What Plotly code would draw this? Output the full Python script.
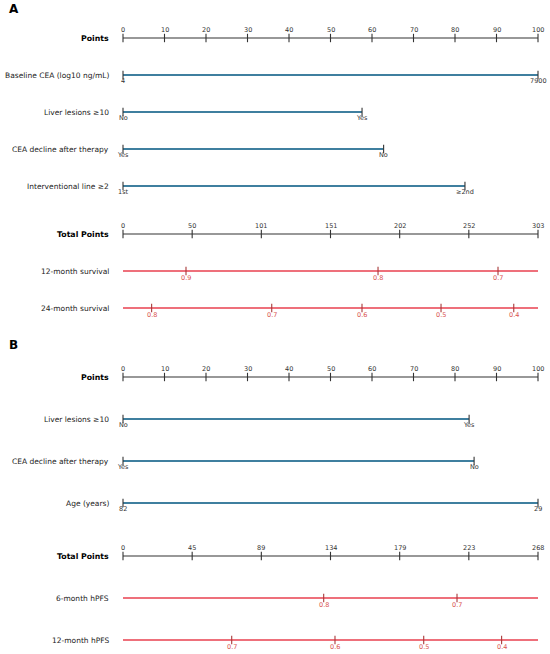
import numpy as np
import plotly.graph_objects as go

# ---- data ----
points_ticks = list(range(0, 101, 10))

# panel A (OS)
a_vars = ["Baseline CEA (log10 ng/mL)", "Liver lesions \u226510", "CEA decline after therapy", "Interventional line \u22652"]
a_ends = [100, 57.6, 62.8, 82.4]
a_end_labels = [["4", "7900"], ["No", "Yes"], ["Yes", "No"], ["1st", "\u22652nd"]]
a_total_max = 303
a_total_labels = ["0", "50", "101", "151", "202", "252", "303"]
a_outcomes = ["12-month survival", "24-month survival"]
a_prob_labels = [[0.9, 0.8, 0.7], [0.8, 0.7, 0.6, 0.5, 0.4]]
a_prob_total = [[46.0, 186.2, 273.8], [20.9, 108.6, 174.5, 232.2, 285.3]]

# panel B (hPFS)
b_vars = ["Liver lesions \u226510", "CEA decline after therapy", "Age (years)"]
b_ends = [83.4, 84.6, 100]
b_end_labels = [["No", "Yes"], ["Yes", "No"], ["82", "29"]]
b_total_max = 268
b_total_labels = ["0", "45", "89", "134", "179", "223", "268"]
b_outcomes = ["6-month hPFS", "12-month hPFS"]
b_prob_labels = [[0.8, 0.7], [0.7, 0.6, 0.5, 0.4]]
b_prob_total = [[129.6, 215.7], [70.2, 136.9, 194.2, 244.5]]

# ---- styling ----
FONT = "DejaVu Sans"
BLUE = "#3f7f9f"
RED = "#e8414f"
RED_TXT = "#d9534f"
DARK = "#333333"
TICK_FS = 6.5
LAB_FS = 7.5

fig = go.Figure()
ann = []


def ticks(xs, y, color):
    fig.add_trace(go.Scatter(x=xs, y=[y] * len(xs), mode="markers",
                             marker=dict(symbol="line-ns-open", size=6, color=color,
                                         line=dict(color=color, width=1.1)),
                             hoverinfo="skip"))


def axis_row(y, name, tick_pos, tick_text):
    fig.add_trace(go.Scatter(x=[0, 100], y=[y, y], mode="lines",
                             line=dict(color=DARK, width=1.2), hoverinfo="skip"))
    ticks(tick_pos, y, DARK)
    for xp, t in zip(tick_pos, tick_text):
        ann.append(dict(x=xp, y=y, text=t, yshift=8, font=dict(size=TICK_FS, color=DARK)))
    ann.append(dict(x=0, y=y, text="<b>" + name + "</b>", xanchor="right", xshift=-12,
                    font=dict(size=LAB_FS + 0.3, color="black")))


def var_row(y, name, end, labels):
    fig.add_trace(go.Scatter(x=[0, end], y=[y, y], mode="lines",
                             line=dict(color=BLUE, width=2.2), hoverinfo="skip"))
    ticks([0, end], y, DARK)
    for xp, t in zip([0, end], labels):
        ann.append(dict(x=xp, y=y, text=t, yshift=-6, font=dict(size=TICK_FS, color=DARK)))
    ann.append(dict(x=0, y=y, text=name, xanchor="right", xshift=-12,
                    font=dict(size=LAB_FS, color="#222222")))


def prob_row(y, name, total_vals, labels, total_max):
    scaled = [v * 100 / total_max for v in total_vals]
    fig.add_trace(go.Scatter(x=[0, 100], y=[y, y], mode="lines",
                             line=dict(color=RED, width=1.4), hoverinfo="skip"))
    ticks(scaled, y, "#a83838")
    for xp, t in zip(scaled, labels):
        ann.append(dict(x=xp, y=y, text=str(t), yshift=-7, font=dict(size=TICK_FS, color=RED_TXT)))
    ann.append(dict(x=0, y=y, text=name, xanchor="right", xshift=-12,
                    font=dict(size=LAB_FS, color="#222222")))


def panel(letter, top, step, gap, vars_, ends, end_labels, total_max, total_labels,
          outcomes, prob_total, prob_labels, letter_y):
    ann.append(dict(x=-0.28, xref="paper", y=letter_y, text="<b>" + letter + "</b>", xanchor="left",
                    font=dict(size=12, color="black")))
    y = top
    axis_row(y, "Points", points_ticks, [str(t) for t in points_ticks])
    for name, end, labs in zip(vars_, ends, end_labels):
        y += step
        var_row(y, name, end, labs)
    y += gap
    tot_pos = list(np.linspace(0, 100, len(total_labels)))
    axis_row(y, "Total Points", tot_pos, total_labels)
    for name, tv, labs in zip(outcomes, prob_total, prob_labels):
        y += step
        prob_row(y, name, tv, labs, total_max)


panel("A", 38, 37, 48, a_vars, a_ends, a_end_labels, a_total_max, a_total_labels,
      a_outcomes, a_prob_total, a_prob_labels, 9)
panel("B", 377, 42, 53, b_vars, b_ends, b_end_labels, b_total_max, b_total_labels,
      b_outcomes, b_prob_total, b_prob_labels, 345)

for a in ann:
    a.setdefault("xref", "x")
    a.update(yref="y", showarrow=False)
    a.setdefault("xanchor", "center")
    a["font"]["family"] = FONT

fig.update_traces(cliponaxis=False)
fig.update_layout(
    width=550, height=654,
    margin=dict(l=123, r=12, t=0, b=0, autoexpand=False),
    plot_bgcolor="white", paper_bgcolor="white",
    showlegend=False,
    xaxis=dict(range=[0, 100], visible=False),
    yaxis=dict(range=[654, 0], visible=False),
    annotations=ann,
    font=dict(family=FONT),
)

fig.write_html("out.html", config={"displayModeBar": False},
               post_script="document.body.style.margin='0';")
